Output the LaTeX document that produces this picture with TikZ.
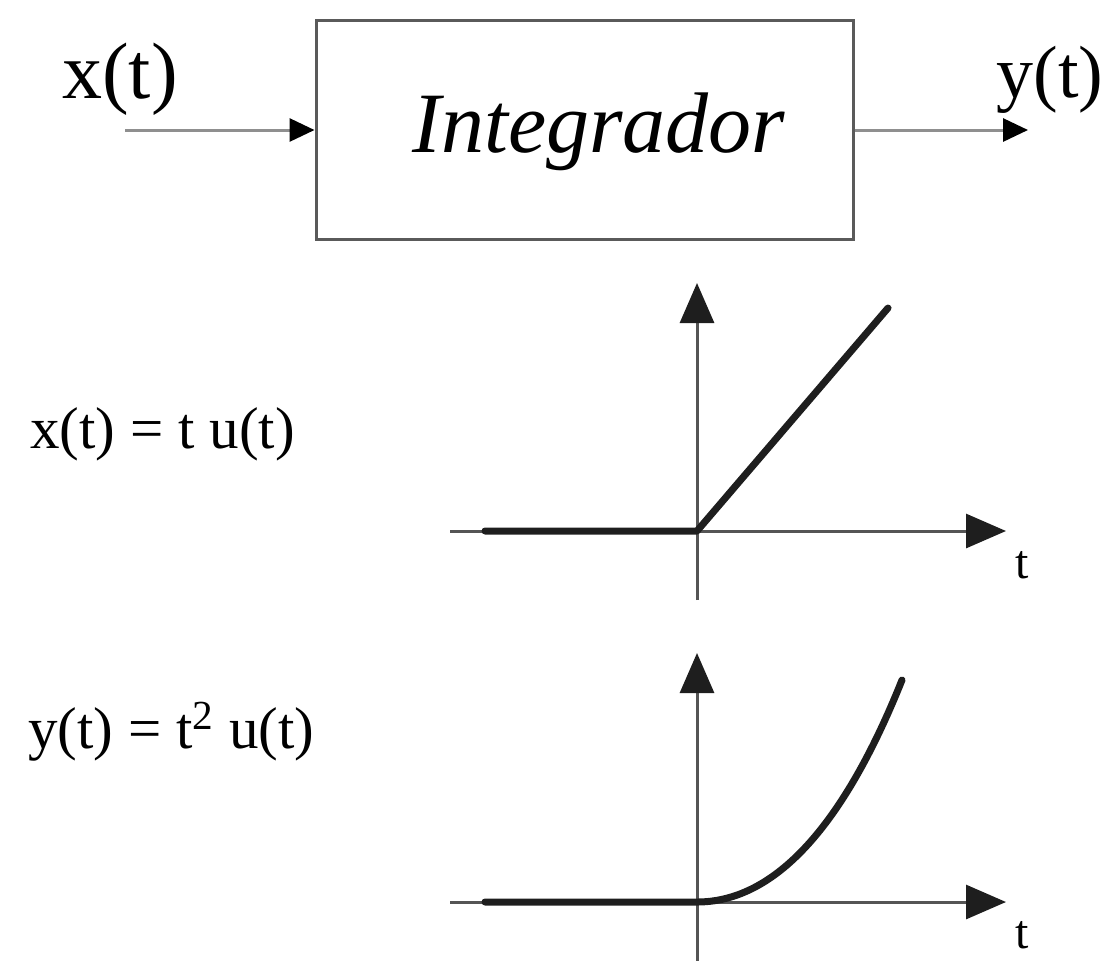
\documentclass[tikz,border=0pt]{standalone}
\usepackage{fontspec}
\setmainfont{Liberation Serif}
\usetikzlibrary{arrows.meta}
\definecolor{axisgray}{HTML}{555555}
\definecolor{boxgray}{HTML}{5A5A5A}
\definecolor{wiregray}{HTML}{8F8F8F}
\definecolor{sigblack}{HTML}{1E1E1E}
\begin{document}
\begin{tikzpicture}[x=0.5pt,y=-0.5pt,
  blockbox/.style={draw=boxgray,line width=1.5pt,minimum width=268.5pt,minimum height=109.5pt,inner sep=0pt},
  wire/.style={draw=wiregray,line width=1.5pt,-{Triangle[length=12.5pt,width=11.5pt,color=black]}},
  axisline/.style={draw=axisgray,line width=1.5pt,-{Triangle[length=20pt,width=17pt,color=sigblack]}},
  signal/.style={draw=sigblack,line width=3.5pt,line cap=round,line join=round},
  biglabel/.style={font=\fontsize{40}{48}\selectfont,anchor=base,inner sep=0pt},
  eqlabel/.style={font=\fontsize{29.5}{36}\selectfont,anchor=base west,inner sep=0pt},
  tlabel/.style={font=\fontsize{24}{28}\selectfont,anchor=base,inner sep=0pt}
]
\useasboundingbox (0,0) rectangle (1107,960);
% block
\node[blockbox] (blk) at (584.5,130) {};
\node[font=\fontsize{43}{50}\selectfont\itshape,anchor=base,inner sep=0pt] (lbl) at (599,152) {Integrador};
\coordinate (in) at (125,130);
\coordinate (out) at (1028,130);
\draw[wire] (in) -- (blk.west);
\draw[wire] (blk.east) -- (out);
\node[biglabel] (xt) at (120,98) {x(t)};
\node[biglabel,font=\fontsize{37}{44}\selectfont] (yt) at (1050,97) {y(t)};
% graph 1
\coordinate (o1) at (697,531);
\coordinate (h1a) at (450,531);
\coordinate (h1b) at (1006,531);
\coordinate (v1a) at (697,600);
\coordinate (v1b) at (697,283);
\coordinate (s1a) at (485,531);
\coordinate (s1b) at (888,308);
\draw[axisline] (h1a) -- (h1b);
\draw[axisline] (v1a) -- (v1b);
\draw[signal] (s1a) -- (o1) -- (s1b);
\node[tlabel] (t1) at (1022,578) {t};
\node[eqlabel] (eq1) at (30,448) {x(t) = t u(t)};
% graph 2
\coordinate (o2) at (697,902);
\coordinate (h2a) at (450,902);
\coordinate (h2b) at (1006,902);
\coordinate (v2a) at (697,962);
\coordinate (v2b) at (697,653);
\coordinate (s2a) at (485,902);
\coordinate (s2b) at (902,680);
\draw[axisline] (h2a) -- (h2b);
\draw[axisline] (v2a) -- (v2b);
\draw[signal] (s2a) -- (o2) .. controls (770,902) and (840,835) .. (s2b);
\node[tlabel] (t2) at (1022,948) {t};
\node[eqlabel] (eq2) at (28,748) {y(t) = t\textsuperscript{2} u(t)};
\end{tikzpicture}
\end{document}
